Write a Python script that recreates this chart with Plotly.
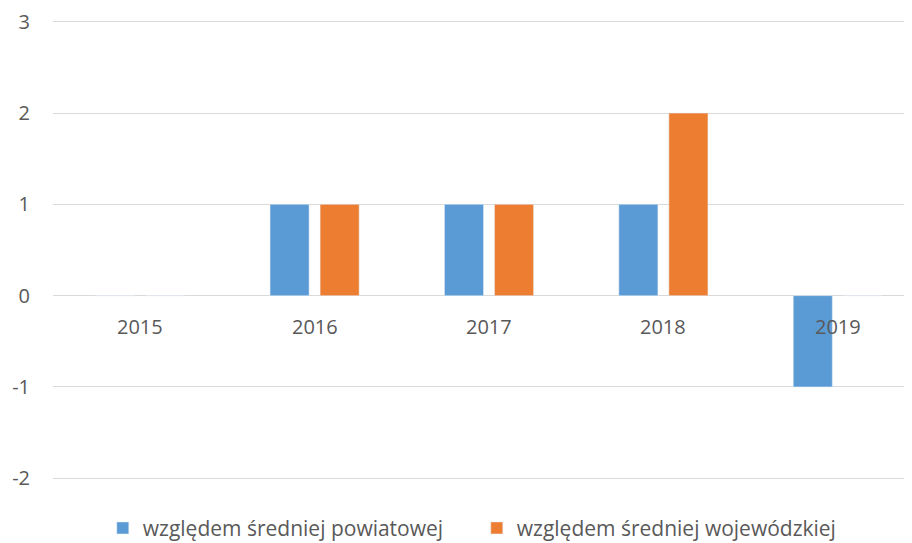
"""Bar chart: deviation relative to county and voivodeship averages."""

import plotly.graph_objects as go

YEARS = ["2015", "2016", "2017", "2018", "2019"]
POWIAT_VALUES = [0, 1, 1, 1, -1]
WOJEWODZTWO_VALUES = [0, 1, 1, 2, 0]
SERIES_NAMES = [
    "względem średniej powiatowej",
    "względem średniej wojewódzkiej",
]
Y_TICKS = [-2, -1, 0, 1, 2, 3]
Y_TICK_LABELS = ["-2", "-1", "0", "1", "2", "3"]

TEXT_COLOR = "#595959"
GRID_COLOR = "#d9d9d9"
FONT_FAMILY = "Open Sans, Liberation Sans, sans-serif"

figure = go.Figure()

figure.add_trace(
    go.Bar(
        x=YEARS,
        y=POWIAT_VALUES,
        name=SERIES_NAMES[0],
        marker={"color": "#5b9bd5"},
    )
)

figure.add_trace(
    go.Bar(
        x=YEARS,
        y=WOJEWODZTWO_VALUES,
        name=SERIES_NAMES[1],
        marker={"color": "#ed7d31"},
    )
)

# Excel-style category labels sit just under the zero line.
# Numeric-looking strings get read as numbers, so use category indices.
for index, year in enumerate(YEARS):
    figure.add_annotation(
        x=index,
        y=0,
        xref="x",
        yref="y",
        text=year,
        showarrow=False,
        yanchor="middle",
        yshift=-31,
        font={"size": 20, "color": TEXT_COLOR, "family": FONT_FAMILY},
    )

# The page body keeps its 8px default margin, and the original chart runs
# past the right edge of the picture, so the figure is a bit oversized.
figure.update_layout(
    width=940,
    height=560,
    barmode="group",
    bargap=0.426,
    bargroupgap=0.22,
    plot_bgcolor="white",
    paper_bgcolor="white",
    margin={"l": 45, "r": 23, "t": 12, "b": 88},
    font={"family": FONT_FAMILY, "color": TEXT_COLOR, "size": 20},
    legend={
        "orientation": "h",
        "x": 0.486,
        "xanchor": "center",
        "y": -0.105,
        "yanchor": "middle",
        "font": {"size": 21, "color": TEXT_COLOR},
        "itemwidth": 30,
        "entrywidth": 329,
    },
)

figure.update_xaxes(
    type="category",
    range=[-0.5, len(YEARS) - 0.5],
    showticklabels=False,
    showgrid=False,
    zeroline=False,
    showline=False,
    automargin=False,
)

figure.update_yaxes(
    range=[-2.02, 3.02],
    tickvals=Y_TICKS,
    ticktext=Y_TICK_LABELS,
    showgrid=True,
    gridcolor=GRID_COLOR,
    gridwidth=1,
    zeroline=True,
    zerolinecolor=GRID_COLOR,
    zerolinewidth=1,
    showline=False,
    ticks="",
    ticklabelstandoff=22,
    ticklabeloverflow="allow",
    tickfont={"size": 20, "color": TEXT_COLOR},
    automargin=False,
)

figure.write_html("out.html")
